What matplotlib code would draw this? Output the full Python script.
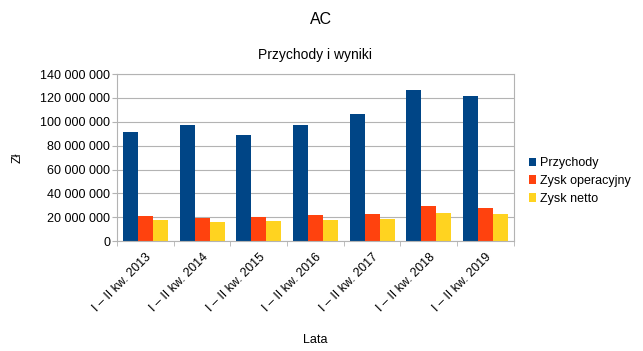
import matplotlib
matplotlib.use("Agg")
import matplotlib.pyplot as plt
import numpy as np
from matplotlib.ticker import FuncFormatter, FixedLocator

plt.rcParams["font.family"] = ["Liberation Sans", "DejaVu Sans"]

LATA = ["I – II kw. 2013", "I – II kw. 2014", "I – II kw. 2015", "I – II kw. 2016",
        "I – II kw. 2017", "I – II kw. 2018", "I – II kw. 2019"]
PRZYCHODY = [91.4e6, 97.0e6, 89.1e6, 97.2e6, 106.2e6, 126.8e6, 121.3e6]
ZYSK_OPER = [20.7e6, 19.3e6, 20.1e6, 21.5e6, 22.6e6, 29.3e6, 27.7e6]
ZYSK_NETTO = [17.3e6, 15.9e6, 17.0e6, 17.9e6, 18.2e6, 23.7e6, 22.6e6]

SERIES = [("Przychody", PRZYCHODY, "#004586"),
          ("Zysk operacyjny", ZYSK_OPER, "#ff420e"),
          ("Zysk netto", ZYSK_NETTO, "#ffd320")]

GRID = "#b3b3b3"
FS = 9

fig = plt.figure(figsize=(6.43, 3.51), dpi=100)
ax = fig.add_axes([0.182, 0.313, 0.617, 0.476])

x = np.arange(len(LATA))
w = 0.265
for i, (name, vals, col) in enumerate(SERIES):
    ax.bar(x + (i - 1) * w, vals, w, color=col, label=name, zorder=2)

ax.set_xlim(-0.5, len(LATA) - 0.5)
ax.set_ylim(0, 140e6)
ax.set_yticks(np.arange(0, 140e6 + 1, 20e6))
ax.yaxis.set_major_formatter(FuncFormatter(lambda v, p: f"{int(v):,}".replace(",", " ")))
ax.grid(axis="y", color=GRID, linewidth=0.8, zorder=0)

ax.set_xticks(x)
ax.set_xticklabels(LATA, rotation=45, ha="right", rotation_mode="anchor", fontsize=FS)
ax.tick_params(axis="x", which="major", length=0, pad=7)
ax.xaxis.set_minor_locator(FixedLocator(np.arange(-0.5, len(LATA), 1)))
ax.tick_params(axis="x", which="minor", length=3.5, color=GRID)
ax.tick_params(axis="y", length=3.5, color=GRID, labelsize=FS, pad=1.5)
for s in ax.spines.values():
    s.set_color(GRID)
    s.set_linewidth(0.8)

ax.set_xlabel("Lata", fontsize=FS, labelpad=14.5)
ax.set_ylabel("Zł", fontsize=FS, labelpad=12)
ax.set_title("Przychody i wyniki", fontsize=10, pad=10.5)
fig.suptitle("AC", fontsize=11.5, y=0.965)

ax.legend(loc="center left", bbox_to_anchor=(1.025, 0.36), frameon=False,
          fontsize=FS, handlelength=0.6, handleheight=0.7, handletextpad=0.3,
          labelspacing=0.45, borderaxespad=0)

fig.savefig("out.png", dpi=100)
